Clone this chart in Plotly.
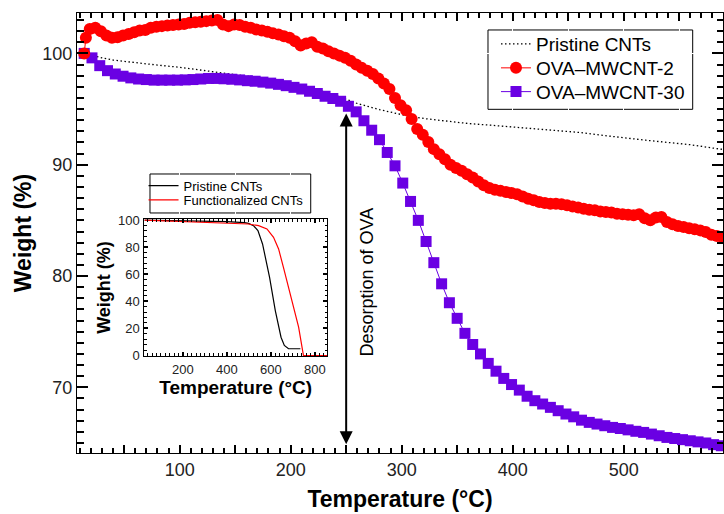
import plotly.graph_objects as go

# ---------------- main chart data ----------------
pristine_T = [15, 20, 30, 40, 60, 80, 100, 120, 140, 160, 180, 200, 220, 240, 260, 280,
              300, 320, 340, 360, 380, 400, 420, 440, 460, 480, 500, 520, 540, 560, 580, 590]
pristine_W = [100.0, 99.85, 99.6, 99.4, 99.15, 98.95, 98.75, 98.5, 98.25, 98.0, 97.7, 97.3,
              96.85, 96.25, 95.5, 94.95, 94.5, 94.15, 93.9, 93.7, 93.55, 93.4, 93.25, 93.1,
              92.9, 92.65, 92.4, 92.2, 92.0, 91.8, 91.5, 91.37]

mw2_T = [14, 15.5, 19,
         24, 29, 34, 39, 44, 49, 54, 59, 64, 69,
         74, 79, 84, 89, 94, 99, 104, 109, 114, 119,
         124, 129, 134, 139, 144, 149, 154, 159, 164, 169,
         174, 179, 184, 189, 194, 199, 204, 209, 214, 219,
         224, 229, 234, 239, 244, 249, 254, 259, 264, 269,
         274, 279, 284, 289, 294, 299, 304, 309, 314, 319,
         324, 329, 334, 339, 344, 349, 354, 359, 364, 369,
         374, 379, 384, 389, 394, 399, 404, 409, 414, 419,
         424, 429, 434, 439, 444, 449, 454, 459, 464, 469,
         474, 479, 484, 489, 494, 499, 504, 509, 514, 519,
         524, 529, 534, 539, 544, 549, 554, 559, 564, 569,
         574, 579, 584, 589]
mw2_W = [100.0, 101.4, 102.2,
         102.3, 102.0, 101.6, 101.4, 101.45, 101.6, 101.75, 101.9, 102.05, 102.1,
         102.3, 102.4, 102.45, 102.5, 102.55, 102.6, 102.65, 102.75, 102.8, 102.85,
         102.9, 102.95, 103.0, 102.6, 102.45, 102.6, 102.55, 102.4, 102.3, 102.15,
         102.05, 101.95, 101.8, 101.7, 101.55, 101.4, 101.1, 100.7, 100.9, 101.0,
         100.6, 100.45, 100.2, 100.0, 99.8, 99.6, 99.35, 99.0, 98.7, 98.45,
         98.15, 97.75, 97.3, 96.8, 96.0, 95.35, 94.9, 94.1, 93.2, 92.7,
         92.05, 91.4, 90.95, 90.5, 90.0, 89.7, 89.45, 89.15, 88.85, 88.5,
         88.15, 87.9, 87.75, 87.65, 87.55, 87.45, 87.35, 87.15, 86.95, 86.8,
         86.65, 86.55, 86.5, 86.5, 86.45, 86.35, 86.25, 86.15, 86.05, 85.95,
         85.9, 85.8, 85.75, 85.7, 85.6, 85.55, 85.5, 85.45, 85.55, 85.2,
         85.0, 85.25, 85.3, 84.85, 84.65, 84.5, 84.4, 84.3, 84.2, 84.1,
         83.95, 83.7, 83.6, 83.5]

mw30_T = [14, 21, 28, 35, 42, 49, 56, 63, 70, 77,
          84, 91, 98, 105, 112, 119, 126, 133, 140, 147,
          154, 161, 168, 175, 182, 189, 196, 203, 210, 217,
          224, 231, 238, 245, 252, 259, 266, 273, 280, 287,
          294, 301, 308, 315, 322, 329, 336, 343, 350, 357,
          364, 371, 378, 385, 392, 399, 406, 413, 420, 427,
          434, 441, 448, 455, 462, 469, 476, 483, 490, 497,
          504, 511, 518, 525, 532, 539, 546, 553, 560, 567,
          574, 581, 588]
mw30_W = [100.0, 99.6, 98.9, 98.45, 98.15, 97.95, 97.8, 97.7, 97.65, 97.6,
          97.6, 97.6, 97.6, 97.62, 97.65, 97.7, 97.75, 97.75, 97.72, 97.68,
          97.62, 97.55, 97.5, 97.42, 97.33, 97.22, 97.1, 96.95, 96.8, 96.6,
          96.4, 96.15, 95.95, 95.7, 95.25, 94.75, 93.95, 93.1, 92.25, 91.1,
          89.9, 88.35, 86.7, 85.0, 83.1, 81.2, 79.3, 77.6, 76.2, 74.85,
          73.85, 73.0, 72.15, 71.45, 70.8, 70.25, 69.75, 69.2, 68.8, 68.5,
          68.2, 67.9, 67.6, 67.35, 67.05, 66.85, 66.7, 66.55, 66.4, 66.3,
          66.18, 66.05, 65.95, 65.8, 65.65, 65.5, 65.4, 65.3, 65.2, 65.1,
          65.0, 64.85, 64.75]

# ---------------- inset data ----------------
inset_pristine_T = [25, 100, 200, 300, 400, 480, 498, 521, 541, 562, 594, 620, 646, 661, 680, 734]
inset_pristine_W = [99.8, 99.6, 99.4, 99.1, 98.7, 98.0, 97.5, 95.8, 92.1, 82.3, 57.7, 33.2, 13.5, 7.4, 5.0, 5.0]
inset_func_T = [25, 100, 200, 300, 400, 498, 544, 582, 612, 635, 657, 680, 703, 726, 748, 855]
inset_func_W = [99.9, 99.5, 99.0, 98.5, 98.0, 97.0, 95.8, 93.4, 87.2, 78.6, 65.0, 50.3, 35.6, 20.9, 0.0, 0.0]

FONT = "Liberation Sans, Arial, sans-serif"
RED = "#ff0000"
PURPLE = "#6a00e3"
TICK = "black"

fig = go.Figure()

fig.add_trace(go.Scatter(x=pristine_T, y=pristine_W, mode="lines", name="Pristine CNTs",
                         line=dict(color="black", width=1.3, dash="1.5px,2.5px"),
                         legend="legend", showlegend=True))
fig.add_trace(go.Scatter(x=mw30_T, y=mw30_W, mode="lines+markers", name="OVA–MWCNT-30",
                         line=dict(color=PURPLE, width=1),
                         marker=dict(symbol="square", size=11, color=PURPLE),
                         legend="legend4", showlegend=True))
fig.add_trace(go.Scatter(x=mw2_T, y=mw2_W, mode="lines+markers", name="OVA–MWCNT-2",
                         line=dict(color=RED, width=1),
                         marker=dict(symbol="circle", size=12, color=RED),
                         legend="legend3", showlegend=True))

fig.add_trace(go.Scatter(x=inset_pristine_T, y=inset_pristine_W, mode="lines", name="Pristine CNTs",
                         line=dict(color="black", width=1.2), xaxis="x2", yaxis="y2",
                         legend="legend2", showlegend=True))
fig.add_trace(go.Scatter(x=inset_func_T, y=inset_func_W, mode="lines", name="Functionalized CNTs",
                         line=dict(color=RED, width=1.2), xaxis="x2", yaxis="y2",
                         legend="legend5", showlegend=True))


def legend_box(x, y, size):
    return dict(x=x, y=y, xanchor="left", yanchor="middle", borderwidth=0,
                bgcolor="rgba(0,0,0,0)", font=dict(size=size, family=FONT, color="black"),
                itemwidth=30, tracegroupgap=0, visible=True)


fig.update_layout(
    width=724, height=514,
    showlegend=True,
    margin=dict(l=77, r=1, t=13, b=61),
    plot_bgcolor="white",
    font=dict(family=FONT, color="black"),
    xaxis=dict(range=[7.5, 589.5], dtick=50,
               labelalias={"50": "", "150": "", "250": "", "350": "", "450": "", "550": ""},
               ticks="inside", ticklen=8, tickwidth=2, tickcolor=TICK,
               showline=True, linecolor=TICK, mirror="ticks",
               gridcolor="white",
               tickfont=dict(size=18, color="#222"),
               minor=dict(dtick=10, ticks="inside", ticklen=5, tickcolor=TICK, tickwidth=1.5),
               title=dict(text="<b>Temperature (°C)</b>", font=dict(size=23), standoff=12)),
    yaxis=dict(range=[64.1, 103.63], dtick=10,
               ticks="inside", ticklen=11, tickwidth=2, tickcolor=TICK,
               showline=True, linecolor=TICK, mirror="ticks",
               gridcolor="white",
               tickfont=dict(size=18, color="#222"),
               minor=dict(dtick=1, ticks="inside", ticklen=6.5, tickcolor=TICK, tickwidth=1.5),
               title=dict(text="<b>Weight (%)</b>", font=dict(size=23), standoff=4)),
    xaxis2=dict(domain=[0.1043, 0.387], anchor="y2", range=[25, 855], dtick=200,
                ticks="inside", ticklen=4, tickwidth=1.5, tickcolor=TICK,
                showline=True, linecolor=TICK, mirror="ticks",
                gridcolor="white",
                tickfont=dict(size=13, color="#222"), ticklabelstandoff=1,
                minor=dict(dtick=20, ticks="inside", ticklen=2.5, tickcolor=TICK, tickwidth=1),
                title=dict(text="<b>Temperature (°C)</b>", font=dict(size=19), standoff=0)),
    yaxis2=dict(domain=[0.2206, 0.5315], anchor="x2", range=[-0.3, 100.6], dtick=20,
                ticks="inside", ticklen=4, tickwidth=1.5, tickcolor=TICK,
                showline=True, linecolor=TICK, mirror="ticks",
                gridcolor="white", zeroline=False,
                tickfont=dict(size=13, color="#222"), ticklabelstandoff=1,
                minor=dict(dtick=4, ticks="inside", ticklen=2.5, tickcolor=TICK, tickwidth=1),
                title=dict(text="<b>Weight (%)</b>", font=dict(size=18), standoff=2)),
    legend=legend_box(0.6486, 0.9295, 19),
    legend3=legend_box(0.6486, 0.875, 19),
    legend4=legend_box(0.6486, 0.821, 19),
    legend2=legend_box(0.103, 0.6075, 13),
    legend5=legend_box(0.103, 0.575, 13),
    shapes=[
        dict(type="rect", xref="paper", yref="paper", x0=0.6362, x1=0.9531, y0=0.7811, y1=0.9614,
             line=dict(color="black", width=1), fillcolor="white", layer="below"),
        dict(type="rect", xref="paper", yref="paper", x0=0.1130, x1=0.3618, y0=0.5455, y1=0.6341,
             line=dict(color="black", width=1), fillcolor="white", layer="below"),
    ],
    annotations=[
        dict(x=250, y=94.6, ax=250, ay=64.75, xref="x", yref="y", axref="x", ayref="y",
             showarrow=True, arrowhead=2, startarrowhead=2, arrowside="end+start",
             arrowsize=1.3, startarrowsize=1.3, arrowwidth=2, arrowcolor="black", text=""),
        dict(x=268.7, y=79.5, xref="x", yref="y", text="Desorption of OVA", textangle=-90,
             showarrow=False, font=dict(size=18, family=FONT, color="black")),
    ],
)

fig.write_html("out.html")
